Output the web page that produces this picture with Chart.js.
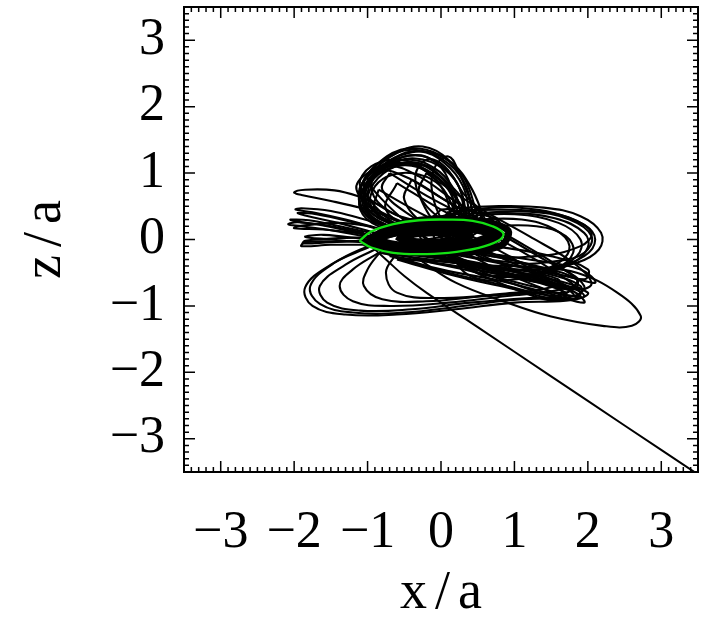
<!DOCTYPE html>
<html>
<head>
<meta charset="utf-8">
<script src="https://cdn.jsdelivr.net/npm/chart.js@4.4.1/dist/chart.umd.min.js"></script>
<style>
  body { margin: 0; background: #fff; }
  #wrap { width: 710px; height: 621px; }
</style>
</head>
<body>
<div id="wrap"><canvas id="orbitChart"></canvas></div>
<script>
// axis range and labelled ticks (units of a)
var axisMin = -3.5;
var axisMax = 3.5;
var tickValues = [-3, -2, -1, 0, 1, 2, 3];

// reference orbit (green), x/a , z/a pairs
var greenOrbit = [
  [-1.11,-0.02],[-0.95,0.12],[-0.65,0.23],[-0.3,0.29],[0.1,0.3],[0.43,0.28],[0.7,0.2],
  [0.85,0.09],[0.78,-0.02],[0.5,-0.13],[0.1,-0.2],[-0.3,-0.22],[-0.65,-0.2],[-0.95,-0.12],[-1.11,-0.02]
];

// loops of the test particle that rise above the plane
var hoodLoops = [
  [[0.45,0.25],[0.35,0.75],[0.1,1.2],[-0.25,1.4],[-0.6,1.3],[-0.95,1.0],[-1.12,0.7],[-1.0,0.35],[-0.6,0.15],[0.0,0.1],[0.45,0.25]],
  [[0.4,0.3],[0.3,0.8],[0.05,1.15],[-0.3,1.33],[-0.65,1.22],[-0.98,0.92],[-1.08,0.6],[-0.92,0.3],[-0.5,0.12],[0.05,0.12],[0.4,0.3]],
  [[0.35,0.35],[0.22,0.85],[-0.05,1.15],[-0.35,1.27],[-0.7,1.15],[-1.0,0.85],[-1.05,0.55],[-0.85,0.28],[-0.4,0.15],[0.1,0.18],[0.35,0.35]],
  [[0.3,0.3],[0.15,0.8],[-0.1,1.08],[-0.45,1.2],[-0.8,1.05],[-1.02,0.75],[-0.98,0.45],[-0.7,0.25],[-0.2,0.15],[0.3,0.3]],
  [[0.25,0.35],[0.1,0.75],[-0.15,1.0],[-0.5,1.12],[-0.85,0.98],[-1.0,0.7],[-0.9,0.4],[-0.55,0.22],[-0.1,0.2],[0.25,0.35]],
  [[0.2,0.4],[0.0,0.8],[-0.3,0.98],[-0.65,0.98],[-0.9,0.8],[-0.95,0.5],[-0.7,0.28],[-0.3,0.22],[0.2,0.4]],
  [[0.5,0.35],[0.3,0.95],[-0.05,1.28],[-0.45,1.3],[-0.8,1.1],[-0.95,0.8],[-0.8,0.5],[-0.4,0.3],[0.1,0.25],[0.5,0.35]],
  [[-0.2,0.0],[-0.8,0.6],[-1.0,0.95],[-0.75,1.12],[-0.3,0.95],[0.3,0.5],[0.8,0.25],[0.3,0.1],[-0.2,0.0]],
  [[-0.3,-0.05],[-0.9,0.5],[-1.05,0.85],[-0.85,1.05],[-0.4,0.9],[0.2,0.5],[0.7,0.3],[0.2,0.05],[-0.3,-0.05]],
  [[0.0,0.1],[-0.25,0.55],[-0.35,0.95],[-0.2,1.2],[0.05,1.1],[0.3,0.7],[0.55,0.35],[0.0,0.1]],
  [[0.1,0.1],[-0.1,0.6],[-0.1,1.05],[0.1,1.25],[0.25,1.0],[0.4,0.6],[0.55,0.3],[0.1,0.1]],
  [[-0.1,0.15],[-0.75,0.45],[-1.1,0.8],[-0.95,1.1],[-0.55,1.2],[-0.15,1.0],[0.2,0.6],[-0.1,0.15]],
  [[0.35,0.2],[0.28,0.7],[0.05,1.05],[-0.35,1.22],[-0.75,1.1],[-1.05,0.78],[-1.1,0.45],[-0.85,0.2],[-0.3,0.08],[0.35,0.2]],
  [[0.3,0.25],[0.2,0.65],[-0.05,0.98],[-0.4,1.15],[-0.78,1.0],[-1.0,0.65],[-0.95,0.35],[-0.6,0.18],[-0.1,0.12],[0.3,0.25]],
  [[0.45,0.3],[0.32,0.85],[0.0,1.22],[-0.4,1.35],[-0.78,1.2],[-1.05,0.9],[-1.1,0.55],[-0.88,0.25],[-0.3,0.12],[0.45,0.3]],
  [[0.15,0.25],[0.05,0.7],[-0.2,1.02],[-0.55,1.15],[-0.9,0.95],[-1.05,0.6],[-0.9,0.3],[-0.4,0.15],[0.15,0.25]],
  [[-0.1,0.1],[-0.85,0.4],[-1.15,0.75],[-1.0,1.0],[-0.6,1.15],[-0.2,1.05],[0.15,0.7],[0.3,0.35],[-0.1,0.1]],
  [[0.0,0.05],[-0.7,0.35],[-1.08,0.65],[-1.0,0.95],[-0.7,1.1],[-0.3,1.15],[0.05,0.9],[0.3,0.5],[0.0,0.05]],
  [[0.2,0.2],[0.1,0.9],[-0.15,1.22],[-0.5,1.25],[-0.85,1.05],[-1.05,0.7],[-0.95,0.4],[-0.5,0.2],[0.2,0.2]],
  [[0.6,0.3],[0.4,0.8],[0.15,1.15],[-0.2,1.35],[-0.55,1.35],[-0.9,1.1],[-1.1,0.75],[-1.05,0.4],[-0.7,0.2],[0.0,0.15],[0.6,0.3]]
];

// diagonal loops from above the plane down to the lower right
var diagonalLoops = [
  [[-0.6,0.85],[0.0,0.45],[0.8,0.0],[1.5,-0.45],[1.9,-0.8],[1.75,-0.9],[1.2,-0.75],[0.4,-0.4],[-0.3,0.1],[-0.75,0.45],[-0.6,0.85]],
  [[-0.4,0.9],[0.2,0.5],[1.0,0.0],[1.6,-0.4],[1.95,-0.7],[1.8,-0.85],[1.3,-0.7],[0.5,-0.3],[-0.2,0.2],[-0.5,0.6],[-0.4,0.9]],
  [[-0.85,0.75],[-0.2,0.35],[0.6,-0.05],[1.3,-0.5],[1.7,-0.85],[1.5,-0.92],[0.9,-0.7],[0.2,-0.35],[-0.5,0.1],[-0.9,0.45],[-0.85,0.75]],
  [[-0.2,1.0],[0.4,0.55],[1.2,0.05],[1.8,-0.35],[2.05,-0.65],[1.9,-0.75],[1.4,-0.55],[0.6,-0.15],[0.0,0.3],[-0.3,0.7],[-0.2,1.0]],
  [[-0.7,1.0],[-0.1,0.6],[0.7,0.15],[1.4,-0.3],[1.85,-0.6],[1.7,-0.75],[1.1,-0.5],[0.3,-0.1],[-0.4,0.35],[-0.8,0.75],[-0.7,1.0]]
];

// narrow excursions to negative x
var leftLoops = [
  [[-0.7,0.35],[-1.07,0.47],[-1.5,0.58],[-1.9,0.67],[-2.0,0.71],[-1.85,0.75],[-1.45,0.74],[-1.1,0.64],[-0.8,0.5]],
  [[-0.8,0.15],[-1.3,0.3],[-1.75,0.41],[-1.98,0.45],[-1.9,0.47],[-1.5,0.43],[-1.1,0.32],[-0.8,0.22]],
  [[-0.9,0.1],[-1.4,0.25],[-1.85,0.36],[-1.95,0.4],[-1.7,0.38],[-1.2,0.26],[-0.9,0.17]],
  [[-0.9,0.02],[-1.5,0.14],[-1.9,0.2],[-2.08,0.23],[-1.95,0.26],[-1.5,0.2],[-1.05,0.1]],
  [[-0.95,0.05],[-1.55,0.2],[-2.0,0.28],[-2.05,0.3],[-1.8,0.29],[-1.3,0.18],[-0.95,0.1]],
  [[-0.95,0.2],[-1.4,0.25],[-1.95,0.2],[-2.0,0.17],[-1.6,0.15],[-1.0,0.08]],
  [[-1.0,-0.02],[-1.5,-0.04],[-1.88,-0.06],[-1.85,-0.02],[-1.4,0.02],[-1.0,0.03]],
  [[-1.0,-0.08],[-1.5,-0.08],[-1.9,-0.1],[-1.85,-0.04],[-1.4,-0.03],[-1.0,-0.02]],
  [[-1.0,0.0],[-1.6,0.07],[-1.85,0.04],[-1.5,0.0],[-1.0,-0.05]]
];

// elongated loops to positive x
var rightLoops = [
  [[0.0,0.45],[0.7,0.5],[1.4,0.48],[1.9,0.35],[2.18,0.1],[2.15,-0.15],[1.85,-0.35],[1.3,-0.45],[0.6,-0.4],[0.0,-0.2],[-0.3,0.1],[0.0,0.45]],
  [[0.1,0.42],[0.8,0.45],[1.5,0.4],[1.95,0.22],[2.1,0.0],[1.95,-0.25],[1.5,-0.42],[0.9,-0.45],[0.3,-0.3],[-0.1,0.05],[0.1,0.42]],
  [[0.2,0.38],[0.9,0.4],[1.55,0.32],[1.95,0.1],[2.0,-0.12],[1.8,-0.35],[1.3,-0.52],[0.7,-0.5],[0.2,-0.3],[0.0,0.1],[0.2,0.38]],
  [[0.3,0.35],[1.0,0.38],[1.6,0.25],[1.9,0.0],[1.85,-0.25],[1.5,-0.45],[0.9,-0.55],[0.4,-0.45],[0.1,-0.1],[0.3,0.35]],
  [[0.4,0.3],[1.1,0.3],[1.55,0.15],[1.75,-0.1],[1.6,-0.35],[1.1,-0.55],[0.5,-0.5],[0.15,-0.2],[0.4,0.3]],
  [[0.5,0.4],[1.2,0.42],[1.75,0.3],[2.05,0.05],[1.95,-0.2],[1.6,-0.32],[1.0,-0.35],[0.4,-0.15],[0.5,0.4]],
  [[-0.2,0.3],[0.6,0.47],[1.3,0.45],[1.8,0.3],[2.05,0.1],[1.9,-0.1],[1.3,-0.25],[0.5,-0.2],[-0.2,0.3]],
  [[0.6,0.2],[1.3,0.2],[1.7,0.05],[1.8,-0.2],[1.55,-0.45],[1.0,-0.6],[0.4,-0.55],[0.2,-0.2],[0.6,0.2]]
];

// band just below the plane
var bandLoops = [
  [[-0.9,-0.1],[-0.3,-0.3],[0.5,-0.5],[1.3,-0.72],[1.85,-0.85],[1.9,-0.7],[1.4,-0.5],[0.6,-0.3],[-0.2,-0.15],[-0.9,-0.1]],
  [[-0.8,-0.2],[0.0,-0.45],[0.8,-0.62],[1.5,-0.82],[1.95,-0.95],[1.8,-0.78],[1.2,-0.6],[0.4,-0.38],[-0.4,-0.2],[-0.8,-0.2]],
  [[-0.6,-0.3],[0.2,-0.55],[1.0,-0.75],[1.6,-0.9],[1.7,-0.8],[1.0,-0.55],[0.2,-0.35],[-0.6,-0.3]],
  [[-0.5,-0.1],[0.3,-0.25],[1.0,-0.4],[1.7,-0.55],[2.1,-0.65],[1.9,-0.45],[1.2,-0.3],[0.4,-0.18],[-0.5,-0.1]],
  [[-0.3,-0.2],[0.5,-0.35],[1.2,-0.55],[1.8,-0.75],[1.85,-0.6],[1.3,-0.4],[0.5,-0.22],[-0.3,-0.2]],
  [[0.0,-0.05],[0.8,-0.25],[1.4,-0.45],[1.95,-0.6],[2.0,-0.45],[1.5,-0.25],[0.7,-0.1],[0.0,-0.05]],
  [[-0.7,-0.25],[0.1,-0.5],[0.9,-0.7],[1.55,-0.85],[1.75,-0.75],[1.1,-0.6],[0.3,-0.42],[-0.7,-0.25]]
];

// wide loops dipping below the plane
var lowerLoops = [
  [[-0.95,-0.1],[-1.5,-0.38],[-1.85,-0.72],[-1.75,-1.0],[-1.3,-1.13],[-0.6,-1.13],[0.2,-1.05],[1.0,-0.95],[1.7,-0.92],[1.95,-0.85],[1.7,-0.7],[1.0,-0.55],[0.2,-0.35],[-0.5,-0.15],[-0.95,-0.1]],
  [[-0.9,-0.15],[-1.3,-0.38],[-1.65,-0.7],[-1.55,-0.95],[-1.1,-1.07],[-0.4,-1.05],[0.4,-0.95],[1.2,-0.88],[1.8,-0.85],[1.6,-0.68],[0.9,-0.5],[0.1,-0.3],[-0.9,-0.15]],
  [[-0.85,-0.2],[-1.2,-0.45],[-1.38,-0.7],[-1.2,-0.93],[-0.7,-1.0],[0.1,-0.95],[0.9,-0.85],[1.5,-0.78],[1.7,-0.7],[1.3,-0.55],[0.5,-0.4],[-0.85,-0.2]],
  [[-0.8,-0.15],[-1.0,-0.45],[-1.05,-0.7],[-0.8,-0.9],[-0.2,-0.93],[0.6,-0.85],[1.3,-0.8],[1.75,-0.78],[1.4,-0.6],[0.4,-0.35],[-0.8,-0.15]],
  [[-0.9,-0.05],[-1.45,-0.35],[-1.78,-0.7],[-1.65,-0.97],[-1.2,-1.1],[-0.5,-1.1],[0.3,-1.0],[1.1,-0.9],[1.9,-0.88],[2.0,-0.8],[1.6,-0.62],[0.6,-0.4],[-0.9,-0.05]],
  [[-0.6,-0.2],[-0.75,-0.5],[-0.6,-0.8],[0.0,-0.88],[0.8,-0.82],[1.5,-0.72],[1.6,-0.6],[1.0,-0.45],[-0.6,-0.2]]
];

// the long tilted loop towards (2.7, -1.2)
var tiltedLoop = [
  [-0.3,-0.3],[0.5,-0.38],[1.3,-0.42],[1.85,-0.5],[2.4,-0.8],[2.72,-1.15],[2.6,-1.3],[2.2,-1.3],
  [1.5,-1.16],[0.9,-0.95],[0.2,-0.65],[-0.3,-0.3]
];

// core loops packed round the binary
var coreLoops = [
  [[-1.0,0.0],[-0.6,0.2],[0.0,0.25],[0.6,0.18],[0.8,0.05],[0.5,-0.1],[-0.1,-0.17],[-0.7,-0.13],[-1.0,0.0]],
  [[-0.85,0.03],[-0.4,0.15],[0.2,0.17],[0.65,0.08],[0.4,-0.05],[-0.2,-0.1],[-0.7,-0.06],[-0.85,0.03]],
  [[-0.6,0.05],[-0.1,0.1],[0.4,0.06],[0.1,-0.03],[-0.5,-0.02],[-0.6,0.05]],
  [[-1.05,-0.05],[-0.6,0.1],[0.1,0.2],[0.75,0.12],[0.3,-0.12],[-0.4,-0.17],[-1.05,-0.05]],
  [[-1.0,0.0],[-0.5,0.25],[0.3,0.3],[0.9,0.15],[0.8,-0.1],[0.0,-0.2],[-0.7,-0.15],[-1.0,0.0]]
];

// final escape path
var escapePath = [
  [-1.0,-0.05],[-0.75,-0.3],[-0.5,-0.55],[-0.2,-0.8],[0.5,-1.32],[1.5,-2.06],[2.5,-2.8],[3.6,-3.61]
];

function toPoints(list){
  return list.map(function(p){ return {x: p[0], y: p[1]}; });
}

function orbitSet(list, color, width, order){
  return {
    data: toPoints(list),
    showLine: true,
    borderColor: color,
    borderWidth: width,
    pointRadius: 0,
    tension: 0.4,
    fill: false,
    order: order
  };
}

var ds = [];
ds.push(orbitSet(greenOrbit, 'rgb(20,225,20)', 2.3, 0));
[hoodLoops, diagonalLoops, leftLoops, rightLoops, bandLoops, lowerLoops].forEach(function(group){
  group.forEach(function(loop){ ds.push(orbitSet(loop, '#000', 2.1, 1)); });
});
coreLoops.forEach(function(loop){ ds.push(orbitSet(loop, '#000', 7, 1)); });
ds.push(orbitSet(tiltedLoop, '#000', 2.1, 1));
ds.push(orbitSet(escapePath, '#000', 2, 1));

var serif = '"Liberation Serif", "Times New Roman", serif';

function tickText(v){
  return v < 0 ? '\u2212' + Math.abs(v) : String(v);
}

// box with inward major/minor ticks on all four sides, plus axis titles
var frameTicks = {
  id: 'frameTicks',
  afterDraw: function(chart){
    var ctx = chart.ctx;
    var a = chart.chartArea;
    var xs = chart.scales.x, ys = chart.scales.y;
    ctx.save();
    ctx.strokeStyle = '#000';
    ctx.lineWidth = 2;
    ctx.strokeRect(a.left, a.top, a.right - a.left, a.bottom - a.top);
    ctx.lineWidth = 1.5;
    ctx.beginPath();
    for (var i = -35; i <= 35; i++) {
      var v = i / 10;
      var len = (i % 10 === 0) ? 11 : 5;
      var px = xs.getPixelForValue(v);
      ctx.moveTo(px, a.bottom); ctx.lineTo(px, a.bottom - len);
      ctx.moveTo(px, a.top); ctx.lineTo(px, a.top + len);
      var py = ys.getPixelForValue(v);
      ctx.moveTo(a.left, py); ctx.lineTo(a.left + len, py);
      ctx.moveTo(a.right, py); ctx.lineTo(a.right - len, py);
    }
    ctx.stroke();

    ctx.fillStyle = '#000';
    ctx.font = '54px ' + serif;
    ctx.letterSpacing = '8px';
    ctx.textAlign = 'center';
    ctx.textBaseline = 'alphabetic';
    ctx.fillText('x/a', (a.left + a.right) / 2 + 4, 608);
    ctx.translate(60, (a.top + a.bottom) / 2);
    ctx.rotate(-Math.PI / 2);
    ctx.fillText('z/a', 4, 0);
    ctx.restore();
  }
};

const config = {
  type: 'scatter',
  data: { datasets: ds },
  options: {
    responsive: true,
    maintainAspectRatio: false,
    animation: false,
    layout: { padding: { left: 0, right: 12, top: 7, bottom: 0 } },
    plugins: { legend: { display: false }, tooltip: { enabled: false } },
    scales: {
      x: {
        min: axisMin, max: axisMax,
        grid: { display: false, drawTicks: false },
        border: { display: false },
        afterFit: function(scale){ scale.height = 149; scale.paddingLeft = 0; scale.paddingRight = 0; },
        afterBuildTicks: function(scale){ scale.ticks = tickValues.map(function(v){ return {value: v}; }); },
        ticks: {
          autoSkip: false, maxRotation: 0, padding: 30, color: '#000',
          font: { family: serif, size: 52 },
          callback: tickText
        }
      },
      y: {
        min: axisMin, max: axisMax,
        grid: { display: false, drawTicks: false },
        border: { display: false },
        afterFit: function(scale){ scale.width = 184; scale.paddingTop = 0; scale.paddingBottom = 0; },
        afterBuildTicks: function(scale){ scale.ticks = tickValues.map(function(v){ return {value: v}; }); },
        ticks: {
          autoSkip: false, padding: 19, color: '#000',
          font: { family: serif, size: 52 },
          callback: tickText
        }
      }
    }
  },
  plugins: [frameTicks]
};

const myChart = new Chart(document.getElementById('orbitChart'), config);
</script>
</body>
</html>
